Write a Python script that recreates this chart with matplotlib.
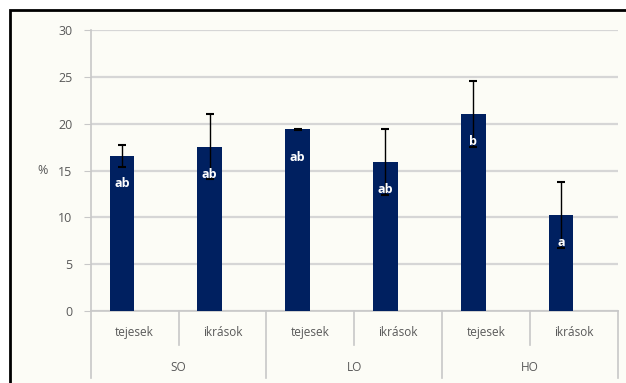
import matplotlib.pyplot as plt
from matplotlib.patches import Rectangle
from matplotlib.lines import Line2D

#-----------------------------------------------
# Data: mean % per sex within each group, with SD and significance letters
categories = ['tejesek', 'ikrások', 'tejesek', 'ikrások', 'tejesek', 'ikrások']
groups = ['SO', 'LO', 'HO']
values = [16.55, 17.55, 19.4, 15.9, 21.05, 10.25]
errors = [1.15, 3.5, 0.05, 3.55, 3.5, 3.55]
letters = ['ab', 'ab', 'ab', 'ab', 'b', 'a']
y_ticks = [0, 5, 10, 15, 20, 25, 30]

plt.rcParams['font.family'] = ['Open Sans', 'DejaVu Sans']
text_grey = '#595959'
line_grey = '#c8c8c8'

W, H = 626, 383
fig = plt.figure(figsize=(W / 100, H / 100), dpi=100)
fig.patch.set_facecolor('white')

# chart area frame (only top and left edges are inside the image)
fig.add_artist(Rectangle((10 / W, -0.2), 1.2, (H - 10) / H + 0.2,
                         transform=fig.transFigure, facecolor='#fcfcf6',
                         edgecolor='black', linewidth=2, zorder=0))

ax = fig.add_axes([90.7 / W, (H - 311) / H, (617.7 - 90.7) / W, (311 - 30) / H])
ax.set_facecolor('none')

# bars sit a little left of the category centre (clustered series slot)
x = list(range(len(values)))
bar_x = [xi - 0.145 for xi in x]
ax.bar(bar_x, values, width=0.28, color='#002060', zorder=3)
ax.errorbar(bar_x, values, yerr=errors, fmt='none', ecolor='black',
            elinewidth=1, capsize=3, capthick=1.5, zorder=4)

for bx, v, lab in zip(bar_x, values, letters):
    ax.annotate(lab, (bx, v), xytext=(0, -20), textcoords='offset points',
                ha='center', va='center', color='white', fontsize=9,
                fontweight='bold', zorder=5)

ax.set_xlim(-0.5, len(values) - 0.5)
ax.set_ylim(0, 30)
ax.set_yticks(y_ticks)
ax.yaxis.grid(True, color='#d6d6d6', linewidth=1.6, zorder=0)
ax.set_axisbelow(True)
ax.tick_params(axis='y', length=5, color=line_grey, labelcolor=text_grey,
               labelsize=9, pad=8)
ax.set_xticks([])
for side in ['top', 'right']:
    ax.spines[side].set_visible(False)
ax.spines['left'].set_color(line_grey)
ax.spines['bottom'].set_color(line_grey)
ax.spines['left'].set_linewidth(1.2)
ax.spines['bottom'].set_linewidth(1.2)

# "%" axis title beside the 15 tick
ax.text(-0.092, 15 / 30, '%', transform=ax.transAxes, ha='center', va='center',
        color=text_grey, fontsize=9)

# two-level category axis
trans = ax.get_xaxis_transform()
for xi, cat in zip(x, categories):
    ax.text(xi, -0.078, cat, transform=trans, ha='center', va='center',
            color=text_grey, fontsize=8.5)
for gi, g in enumerate(groups):
    ax.text(2 * gi + 0.5, -0.2, g, transform=trans, ha='center', va='center',
            color=text_grey, fontsize=8.5)
for b in [0.5, 2.5, 4.5]:
    ax.add_line(Line2D([b, b], [0, -0.121], transform=trans, color=line_grey,
                       linewidth=1.2, clip_on=False))
for b in [-0.5, 1.5, 3.5, 5.5]:
    ax.add_line(Line2D([b, b], [0, -0.238], transform=trans, color=line_grey,
                       linewidth=1.2, clip_on=False))

fig.savefig('out.png', dpi=100, facecolor=fig.get_facecolor())
